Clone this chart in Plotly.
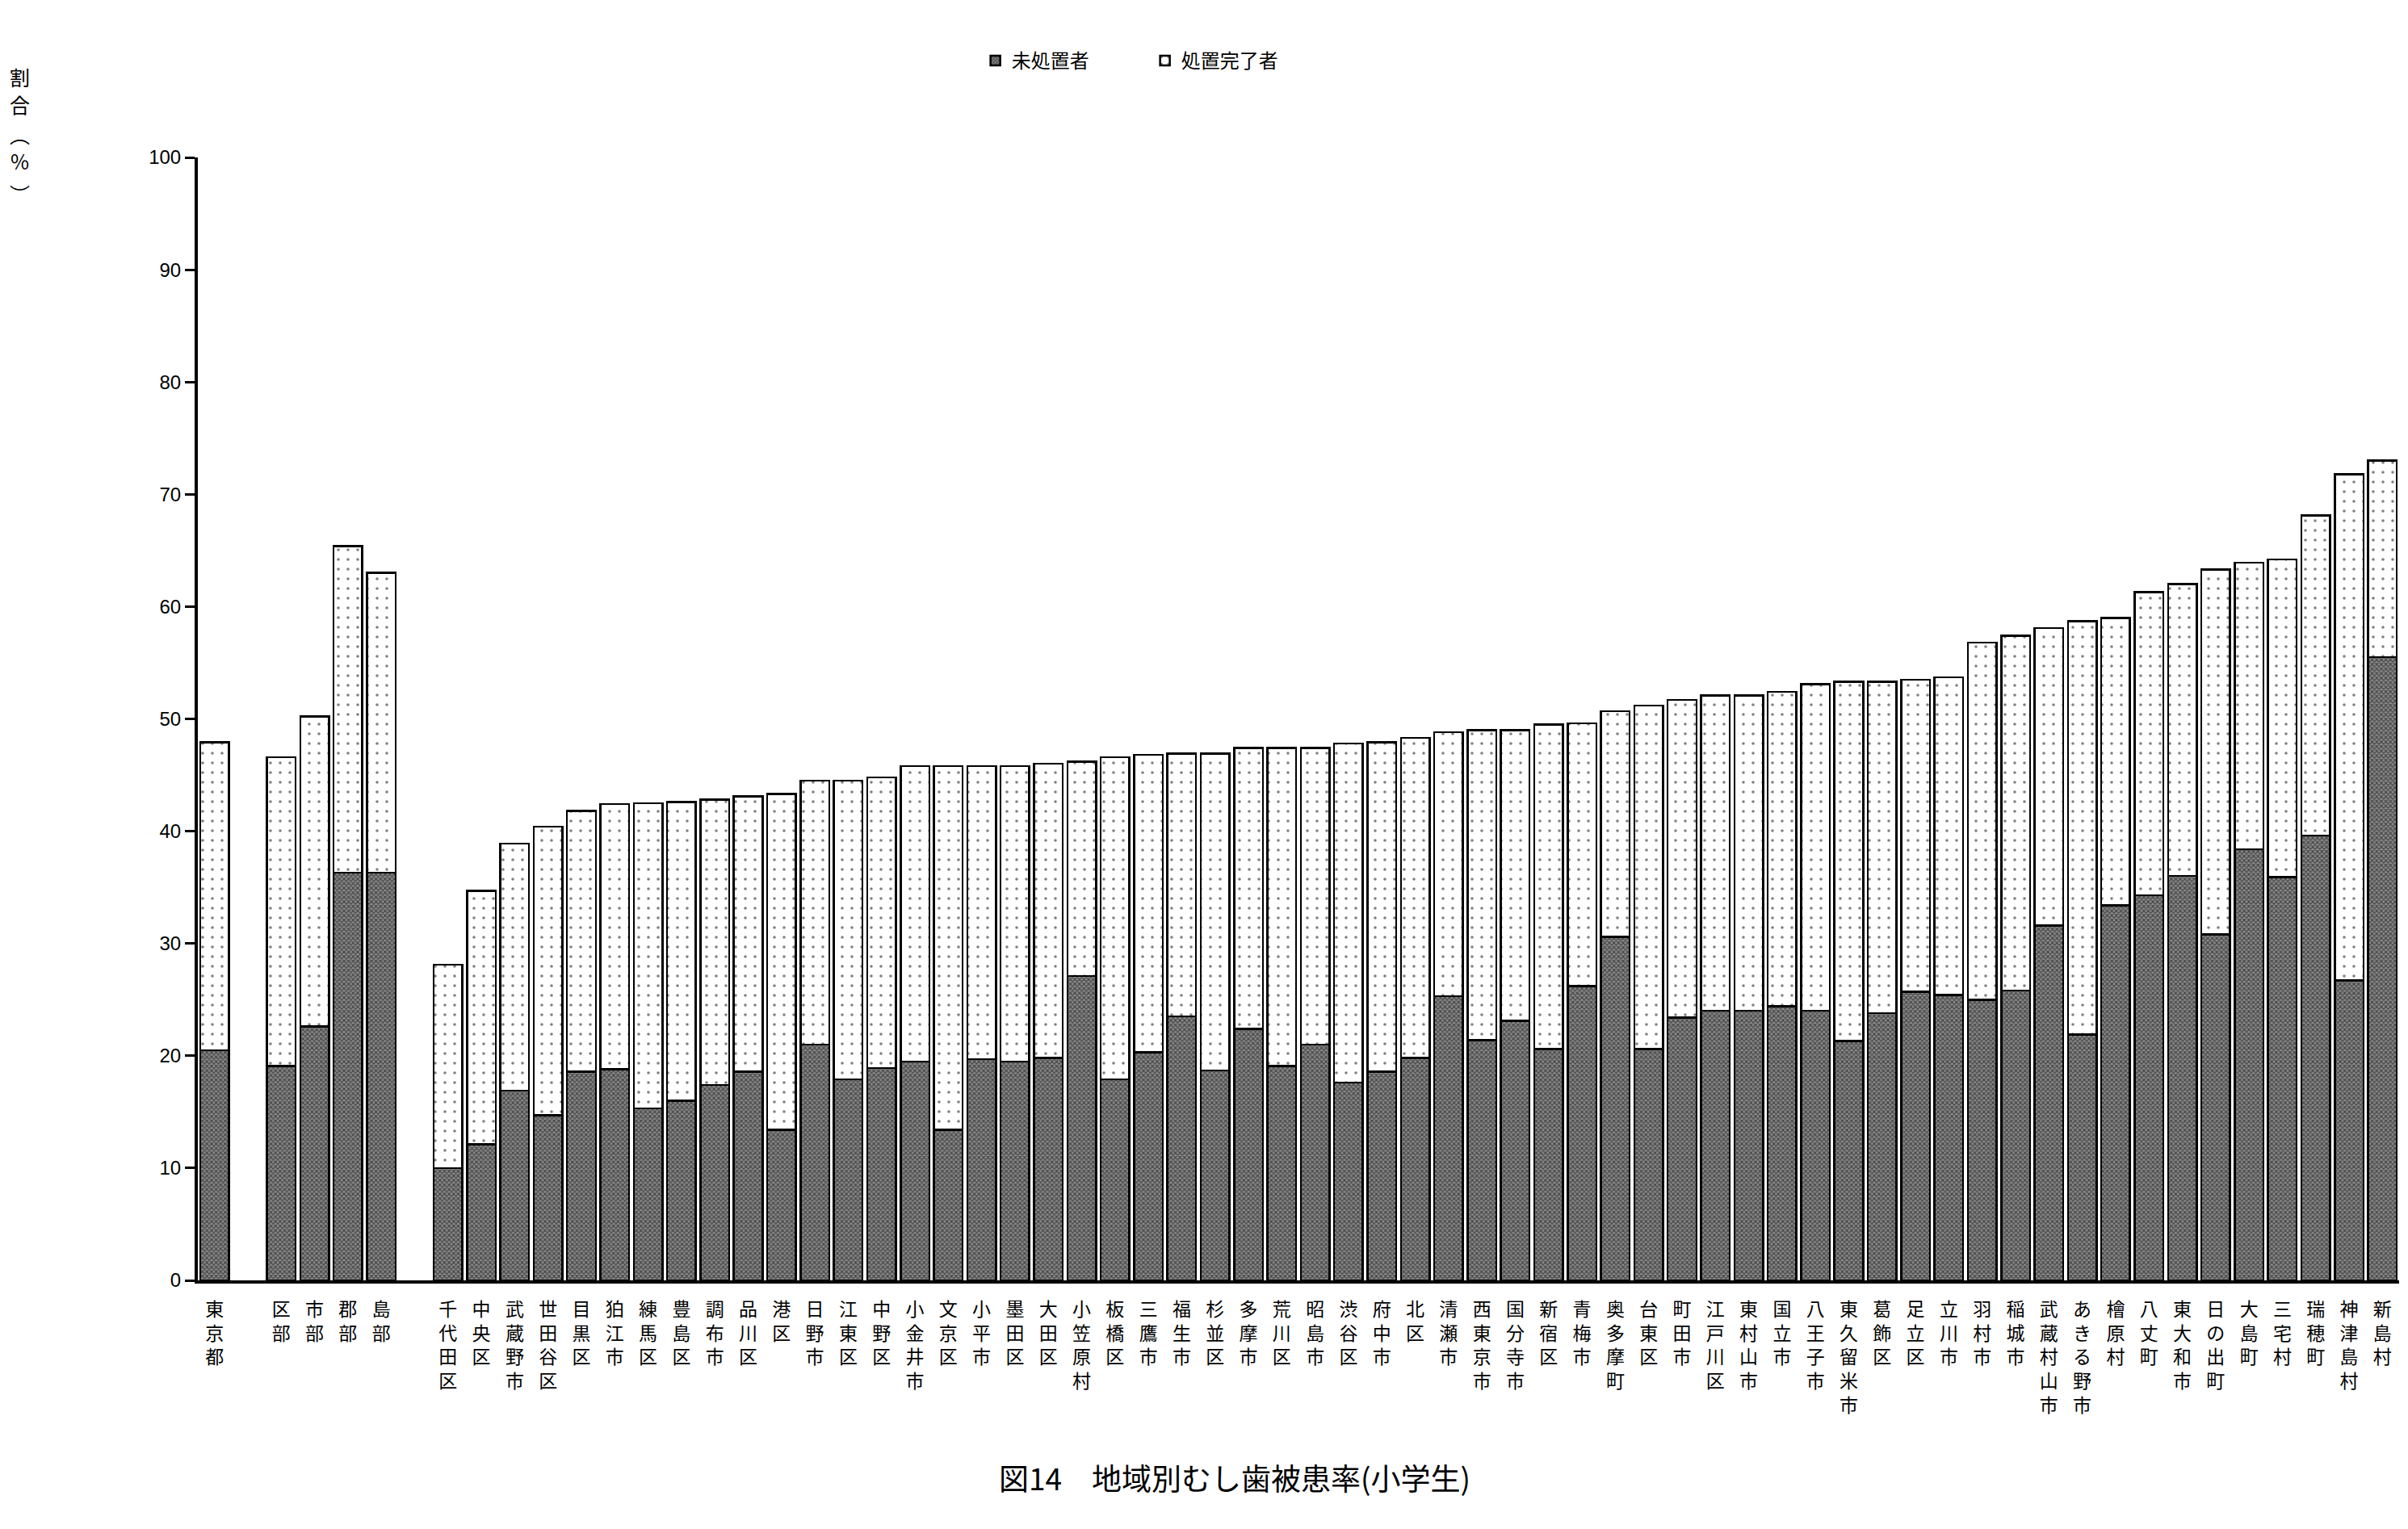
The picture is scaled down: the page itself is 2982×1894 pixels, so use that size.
import plotly.graph_objects as go

# ---- data ----
areas = ["東京都", "", "区部", "市部", "郡部", "島部", " ",
         "千代田区", "中央区", "武蔵野市", "世田谷区", "目黒区", "狛江市", "練馬区", "豊島区",
         "調布市", "品川区", "港区", "日野市", "江東区", "中野区", "小金井市", "文京区",
         "小平市", "墨田区", "大田区", "小笠原村", "板橋区", "三鷹市", "福生市", "杉並区",
         "多摩市", "荒川区", "昭島市", "渋谷区", "府中市", "北区", "清瀬市", "西東京市",
         "国分寺市", "新宿区", "青梅市", "奥多摩町", "台東区", "町田市", "江戸川区", "東村山市",
         "国立市", "八王子市", "東久留米市", "葛飾区", "足立区", "立川市", "羽村市", "稲城市",
         "武蔵村山市", "あきる野市", "檜原村", "八丈町", "東大和市", "日の出町", "大島町", "三宅村",
         "瑞穂町", "神津島村", "新島村"]

total_rate = [47.9, None, 46.6, 50.2, 65.4, 63.0, None,
              28.1, 34.7, 38.9, 40.4, 41.8, 42.4, 42.5, 42.6,
              42.8, 43.1, 43.3, 44.5, 44.5, 44.8, 45.8, 45.8,
              45.8, 45.8, 46.0, 46.2, 46.6, 46.8, 46.9, 46.9,
              47.4, 47.4, 47.4, 47.8, 47.9, 48.3, 48.8, 49.0,
              49.0, 49.5, 49.6, 50.7, 51.2, 51.7, 52.1, 52.1,
              52.4, 53.1, 53.3, 53.3, 53.5, 53.7, 56.8, 57.4,
              58.1, 58.7, 59.0, 61.3, 62.0, 63.3, 63.9, 64.2,
              68.1, 71.8, 73.0]

untreated_rate = [20.5, None, 19.1, 22.6, 36.3, 36.3, None,
                  10.0, 12.1, 16.9, 14.7, 18.6, 18.8, 15.3, 16.0,
                  17.4, 18.6, 13.4, 21.0, 17.9, 18.9, 19.5, 13.4,
                  19.7, 19.5, 19.8, 27.1, 17.9, 20.3, 23.5, 18.7,
                  22.4, 19.1, 21.0, 17.6, 18.6, 19.8, 25.3, 21.4,
                  23.1, 20.6, 26.2, 30.6, 20.6, 23.4, 24.0, 24.0,
                  24.4, 24.0, 21.3, 23.8, 25.7, 25.4, 25.0, 25.8,
                  31.6, 21.9, 33.4, 34.3, 36.0, 30.8, 38.4, 35.9,
                  39.6, 26.7, 55.5]

y_ticks = [0, 10, 20, 30, 40, 50, 60, 70, 80, 90, 100]
series_names = ["未処置者", "処置完了者"]
y_title_chars = ["割", "合", "︵", "%", "︶"]
chart_title = "図14　地域別むし歯被患率(小学生)"

treated_rate = [None if t is None else round(t - u, 1) for t, u in zip(total_rate, untreated_rate)]
ticktext = ["<br>".join(list(a.strip())) for a in areas]

FONT = "Noto Sans CJK JP"

fig = go.Figure()
fig.add_trace(go.Bar(
    x=areas, y=untreated_rate, name=series_names[0],
    marker=dict(color="#6a6a6a", line=dict(color="black", width=2.5),
                pattern=dict(shape="x", fgcolor="black", bgcolor="#8a8a8a", size=4, solidity=0.5)),
))
fig.add_trace(go.Bar(
    x=areas, y=treated_rate, name=series_names[1],
    marker=dict(color="white", line=dict(color="black", width=2.5),
                pattern=dict(shape=".", fgcolor="black", bgcolor="white", size=12, solidity=0.07)),
))

fig.update_layout(
    width=2974, height=1886,
    barmode="stack", bargap=0.14,
    plot_bgcolor="white", paper_bgcolor="white",
    margin=dict(l=237, r=11, t=187, b=308),
    font=dict(family=FONT, color="black"),
    showlegend=True,
    legend=dict(orientation="h", x=0.432, xanchor="center", y=1.086, yanchor="middle",
                font=dict(size=24, family=FONT), traceorder="normal", entrywidth=165),
    xaxis=dict(type="category", categoryorder="array", categoryarray=areas,
               tickmode="array", tickvals=areas, ticktext=ticktext,
               tickangle=0, tickfont=dict(size=23, family=FONT),
               showline=True, linecolor="black", linewidth=4, ticks="",
               showgrid=False, range=[-0.5, len(areas) - 0.5], ticklabelstandoff=12),
    yaxis=dict(range=[0, 100], tickmode="array", tickvals=y_ticks,
               tickfont=dict(size=24, family="Liberation Sans"),
               showline=True, linecolor="black", linewidth=4,
               ticks="outside", ticklen=12, tickwidth=3, tickcolor="black",
               showgrid=False, zeroline=False),
)

title_y = [95, 129, 166, 199, 240]
for ch, yy in zip(y_title_chars, title_y):
    fig.add_annotation(text=ch, xref="paper", yref="paper",
                       x=-(245 - 24) / 2726, y=1 + (195 - yy) / 1391,
                       xanchor="center", yanchor="middle", showarrow=False,
                       font=dict(size=25, family=FONT))

fig.add_annotation(text=chart_title, xref="paper", yref="paper",
                   x=0.471, y=-(1830 - 1586) / 1391, xanchor="center", yanchor="middle",
                   showarrow=False, font=dict(size=37, family=FONT))

fig.write_html("out.html")
